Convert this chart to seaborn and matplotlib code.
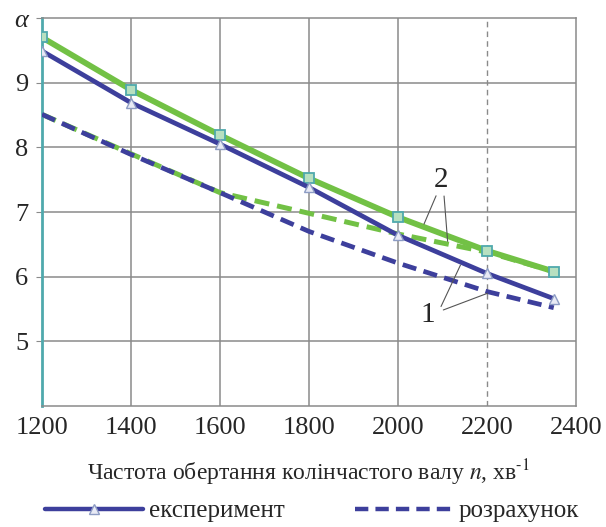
import numpy as np
import pandas as pd
import matplotlib
matplotlib.use("Agg")
import matplotlib.pyplot as plt
import seaborn as sns
from matplotlib.lines import Line2D

# ---- data ----
n_vals = [1200, 1400, 1600, 1800, 2000, 2200, 2350]
exp_1 = [9.49, 8.69, 8.05, 7.38, 6.64, 6.05, 5.66]   # blue solid (experiment, 1)
exp_2 = [9.70, 8.89, 8.19, 7.52, 6.92, 6.40, 6.08]   # green solid (experiment, 2)
calc_1 = [8.51, 7.89, 7.30, 6.70, 6.21, 5.77, 5.52]  # blue dashed (calculation, 1)
calc_2 = [8.51, 7.90, 7.30, 6.98, 6.66, 6.38, 6.08]  # green dashed (calculation, 2)

x_ticks = [1200, 1400, 1600, 1800, 2000, 2200, 2400]
y_ticks = [5, 6, 7, 8, 9, 10]
y_tick_labels = ["5", "6", "7", "8", "9", "α"]
legend_labels = ["експеримент", "розрахунок"]
xlabel_text = "Частота обертання колінчастого валу $\\mathit{n}$, хв$^{\\text{-}1}$"

# annotation anchors (n positions)
label2_n, label2_v = 2097, 7.50
label2_from = [(2088, 7.29, 2056), (2103, 7.29, 2112)]
label1_n, label1_v = 2067, 5.40
label1_from = [(2094, 5.50, 2143), (2096, 5.47, 2207)]

BLUE = "#3d3f9c"
GREEN = "#72c145"
GRID = "#8a8a8a"
TEAL = "#4fa9ad"

sns.set_style("white")
plt.rcParams["font.family"] = ["Liberation Serif", "DejaVu Serif"]
plt.rcParams["mathtext.fontset"] = "stix"

fig = plt.figure(figsize=(6.06, 5.27), dpi=100)
ax = fig.add_axes([0.0693, 0.2296, 0.8812, 0.7362])

df = pd.DataFrame({"n": n_vals, "e1": exp_1, "e2": exp_2, "c1": calc_1, "c2": calc_2})

# grid
for xv in x_ticks[1:-2]:
    ax.axvline(xv, color=GRID, lw=1.1, zorder=0)
ax.axvline(x_ticks[-2], color=GRID, lw=1.0, ls=(0, (4, 3)), zorder=0)
for yv in y_ticks[:-1]:
    ax.axhline(yv, color=GRID, lw=1.1, zorder=0)

sns.lineplot(data=df, x="n", y="c2", ax=ax, color=GREEN, lw=3.6,
             linestyle=(0, (3.0, 1.6)), zorder=2)
sns.lineplot(data=df, x="n", y="c1", ax=ax, color=BLUE, lw=3.4,
             linestyle=(0, (3.0, 1.6)), zorder=3)
sns.lineplot(data=df, x="n", y="e2", ax=ax, color=GREEN, lw=4.2, zorder=4,
             marker="s", markersize=6.5, markeredgecolor=TEAL,
             markerfacecolor="#b7e0c0", markeredgewidth=1.3)
sns.lineplot(data=df, x="n", y="e1", ax=ax, color=BLUE, lw=3.4, zorder=5,
             marker="^", markersize=6.5, markeredgecolor="#8d9cc4",
             markerfacecolor="#e8eaf5", markeredgewidth=1.0)

ax.set_xlim(x_ticks[0], x_ticks[-1])
ax.set_ylim(4, 10)
ax.set_xticks(x_ticks)
ax.set_xticklabels([str(v) for v in x_ticks], fontsize=19)
ax.set_yticks(y_ticks)
ax.set_yticklabels(y_tick_labels, fontsize=19)
ax.get_yticklabels()[-1].set_fontstyle("italic")
ax.tick_params(axis="y", length=4, color=GRID, pad=6, left=True)
ax.tick_params(axis="x", length=0, pad=8)

ax.set_xlabel(xlabel_text, fontsize=17, labelpad=13)
ax.set_ylabel("")

for side in ["top", "right", "bottom"]:
    ax.spines[side].set_color(GRID)
    ax.spines[side].set_linewidth(1.1)
ax.spines["left"].set_color(TEAL)
ax.spines["left"].set_linewidth(2.0)

# annotations
ax.text(label2_n, label2_v, "2", fontsize=21, ha="center", va="center", zorder=6)
for sx, sy, tn in label2_from:
    ty = np.interp(tn, n_vals, exp_2 if tn < 2100 else calc_2)
    ax.annotate("", xy=(tn, ty), xytext=(sx, sy),
                arrowprops=dict(arrowstyle="-", color="#555555", lw=0.8), zorder=6)
ax.text(label1_n, label1_v, "1", fontsize=21, ha="center", va="center", zorder=6)
for sx, sy, tn in label1_from:
    ty = np.interp(tn, n_vals, exp_1 if tn < 2180 else calc_1)
    ax.annotate("", xy=(tn, ty), xytext=(sx, sy),
                arrowprops=dict(arrowstyle="-", color="#555555", lw=0.8), zorder=6)

handles = [
    Line2D([], [], color=BLUE, lw=3.2, marker="^", markersize=7,
           markeredgecolor="#8d9cc4", markerfacecolor="#e8eaf5"),
    Line2D([], [], color=BLUE, lw=3.2, linestyle=(0, (3.0, 1.6))),
]
fig.legend(handles, legend_labels, loc="center", bbox_to_anchor=(0.515, 0.03),
           ncol=2, frameon=False, fontsize=18, handlelength=3.9,
           handletextpad=0.25, columnspacing=2.8)

fig.savefig("out.png", dpi=100)
